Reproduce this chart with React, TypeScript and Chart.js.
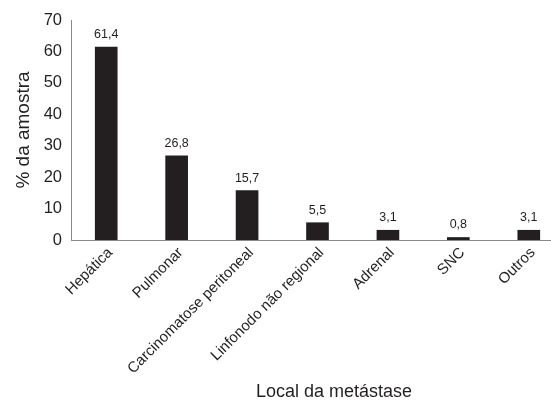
import React, { useEffect, useRef } from "react";
import { Chart, registerables } from "chart.js";

Chart.register(...registerables);

const categories = [
  "Hepática",
  "Pulmonar",
  "Carcinomatose peritoneal",
  "Linfonodo não regional",
  "Adrenal",
  "SNC",
  "Outros",
];
const values = [61.4, 26.8, 15.7, 5.5, 3.1, 0.8, 3.1];
const yTitle = "% da amostra";
const xTitle = "Local da metástase";

const FONT = "'Liberation Sans', Arial, Helvetica, sans-serif";
const INK = "#231f20";

const valueLabels = {
  id: "valueLabels",
  afterDatasetsDraw(chart: any) {
    const ctx = chart.ctx;
    const meta = chart.getDatasetMeta(0);
    ctx.save();
    ctx.font = `12.5px ${FONT}`;
    ctx.fillStyle = INK;
    ctx.textAlign = "center";
    ctx.textBaseline = "alphabetic";
    meta.data.forEach((bar: any, i: number) => {
      const txt = values[i].toFixed(1).replace(".", ",");
      ctx.fillText(txt, bar.x, bar.y - 9);
    });
    ctx.restore();
  },
};

const xTitlePlugin = {
  id: "xTitlePlugin",
  afterDraw(chart: any) {
    const ctx = chart.ctx;
    ctx.save();
    ctx.font = `18px ${FONT}`;
    ctx.fillStyle = INK;
    ctx.textAlign = "center";
    ctx.textBaseline = "alphabetic";
    ctx.fillText(xTitle, 334, 397);
    ctx.restore();
  },
};

export default function App() {
  const ref = useRef<HTMLCanvasElement>(null);
  useEffect(() => {
    if (!ref.current) return;
    const chart = new Chart(ref.current, {
      type: "bar",
      data: {
        labels: categories,
        datasets: [
          {
            data: values,
            backgroundColor: INK,
            barThickness: 22,
          },
        ],
      },
      options: {
        animation: false,
        responsive: true,
        maintainAspectRatio: false,
        layout: { padding: { top: 20, left: 0, right: 0, bottom: 0 } },
        plugins: {
          legend: { display: false },
          tooltip: { enabled: false },
          title: { display: false },
        },
        scales: {
          x: {
            grid: { display: false, drawTicks: false },
            border: { display: true, color: "#8a8a8a", width: 1 },
            ticks: {
              color: INK,
              font: { family: FONT, size: 15 },
              minRotation: 45,
              maxRotation: 45,
              autoSkip: false,
              padding: 4,
              labelOffset: 4,
            },
            afterFit(scale: any) {
              scale.height = 161;
            },
          },
          y: {
            min: 0,
            max: 70,
            grid: { display: false, drawTicks: false },
            border: { display: true, color: "#8a8a8a", width: 1 },
            ticks: {
              stepSize: 10,
              color: INK,
              font: { family: FONT, size: 16.5 },
              padding: 9,
            },
            title: {
              display: true,
              text: yTitle,
              color: INK,
              font: { family: FONT, size: 19 },
              padding: { top: 12, bottom: 0 },
            },
            afterFit(scale: any) {
              scale.width = 71;
            },
          },
        },
      },
      plugins: [valueLabels, xTitlePlugin],
    });
    return () => chart.destroy();
  }, []);

  return (
    <div
      style={{
        position: "fixed",
        left: 0,
        top: 0,
        width: 551,
        height: 401,
        overflow: "hidden",
        background: "#fff",
      }}
    >
      <div style={{ width: 564, height: 401, position: "relative" }}>
        <canvas ref={ref} />
      </div>
    </div>
  );
}
